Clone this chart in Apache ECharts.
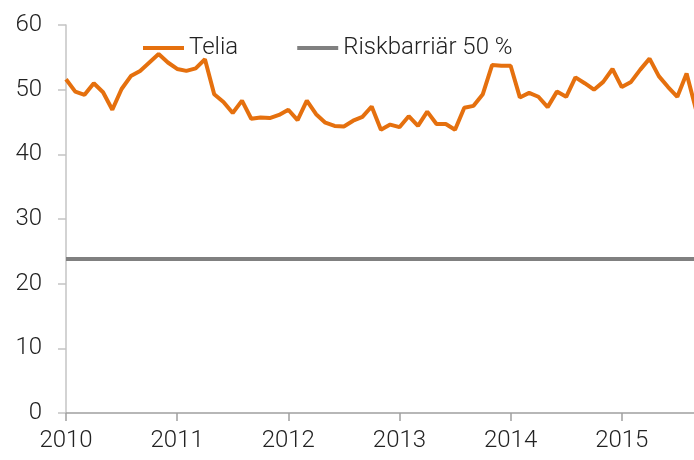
<!DOCTYPE html>
<html><head><meta charset="utf-8">
<script src="https://cdn.jsdelivr.net/npm/echarts@6/dist/echarts.min.js"></script>
<style>html,body{margin:0;padding:0;background:#fff}#c{width:694px;height:460px}</style>
</head><body><div id="c"></div>
<script>
// Monthly Telia share price, Jan 2010 onwards
const startYear = 2010;
const teliaValues = [
  51.6, 49.7, 49.2, 51.0, 49.6, 46.9, 50.1, 52.1, 52.9, 54.2, 55.5, 54.2,
  53.2, 52.9, 53.3, 54.7, 49.3, 48.1, 46.4, 48.3, 45.5, 45.7, 45.6, 46.1,
  46.9, 45.3, 48.3, 46.2, 44.9, 44.4, 44.3, 45.2, 45.8, 47.4, 43.8, 44.6,
  44.2, 45.9, 44.4, 46.6, 44.7, 44.7, 43.8, 47.2, 47.5, 49.3, 53.8, 53.7,
  53.7, 48.8, 49.5, 48.9, 47.3, 49.7, 48.9, 51.9, 51.0, 50.0, 51.2, 53.2,
  50.4, 51.2, 53.1, 54.8, 52.1, 50.4, 48.9, 52.5, 47.0
];
const barrierX = [2010, 2015.75];
const barrierValues = [23.8, 23.8];
const xTicks = [2010, 2011, 2012, 2013, 2014, 2015];
const seriesNames = ['Telia', 'Riskbarriär 50 %'];

const teliaData = teliaValues.map((v, i) => [startYear + i / 12, v]);
const barrierData = barrierX.map((x, i) => [x, barrierValues[i]]);

const FONT = 'Roboto';
const chart = echarts.init(document.getElementById('c'), null, {renderer: 'canvas'});
chart.setOption({
  animation: false,
  backgroundColor: '#ffffff',
  textStyle: {fontFamily: FONT},
  grid: {left: 66, right: 0, top: 25, bottom: 47, containLabel: false},
  legend: {
    left: 138, top: 31,
    icon: 'rect',
    itemWidth: 41, itemHeight: 4, itemGap: 59,
    textStyle: {fontFamily: FONT, fontWeight: 300, fontSize: 24, color: '#222'},
    data: seriesNames
  },
  xAxis: {
    type: 'value', min: 2010, max: 2015.65, interval: 1,
    axisLine: {lineStyle: {color: '#a0a0a0', width: 1.5}},
    axisTick: {show: true, length: 8, customValues: xTicks, lineStyle: {color: '#a0a0a0', width: 1.5}},
    axisLabel: {customValues: xTicks, margin: 16, fontFamily: FONT, fontWeight: 300, fontSize: 24, color: '#222', formatter: v => String(v)},
    splitLine: {show: false}
  },
  yAxis: {
    type: 'value', min: 0, max: 60, interval: 10,
    axisLine: {show: true, lineStyle: {color: '#c4c4c4', width: 1.5}},
    axisTick: {show: true, length: 8, lineStyle: {color: '#c4c4c4', width: 1.5}},
    axisLabel: {margin: 24, fontFamily: FONT, fontWeight: 300, fontSize: 24, color: '#222'},
    splitLine: {show: false}
  },
  series: [
    {name: seriesNames[0], type: 'line', data: teliaData, showSymbol: false, symbol: 'none',
     lineStyle: {color: '#E5700E', width: 4}, itemStyle: {color: '#E5700E'}, z: 3},
    {name: seriesNames[1], type: 'line', data: barrierData, showSymbol: false, symbol: 'none',
     lineStyle: {color: '#808080', width: 4}, itemStyle: {color: '#808080'}, z: 2}
  ]
});
</script>
</body></html>
